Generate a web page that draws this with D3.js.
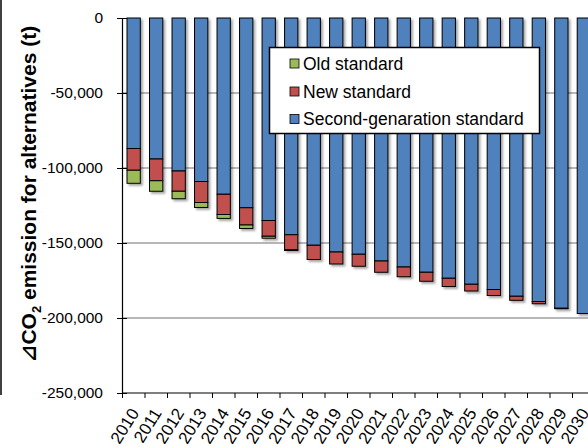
<!DOCTYPE html>
<html>
<head>
    <meta charset="utf-8" />
    <script src="https://d3js.org/d3.v7.min.js"></script>
    <style>
        body { margin: 0; background: #fff; }
        text { font-family: "Liberation Sans", Arial, sans-serif; }
    </style>
</head>
<body>
    <script>
        var years = d3.range(2010, 2031).map(String);
        // values in t (negative = reduction)
        var secondGen = [-87000, -94000, -102000, -109000, -117500, -126500, -135000, -144500, -151500, -156000, -157500,
                         -162000, -166000, -169500, -173500, -177500, -181000, -185500, -189000, -193500, -197000];
        var newStd = [-14500, -14500, -13500, -14000, -13500, -11500, -10500, -10000, -9500, -8000, -8000,
                      -7500, -6500, -6000, -5500, -4500, -4000, -2700, -1500, -300, 0];
        var oldStd = [-8700, -7000, -5000, -3300, -2600, -2300, -1300, -500, 0, 0, 0,
                      0, 0, 0, 0, 0, 0, 0, 0, 0, 0];
        var yTicks = [0, -50000, -100000, -150000, -200000, -250000];
        var seriesNames = ["Old standard", "New standard", "Second-genaration standard"];

        var colors = { second: "#4f81bd", "new": "#c0504d", old: "#9bbb59" };

        var width = 588, height = 447;
        var svg = d3.select("body").append("svg")
            .attr("width", width)
            .attr("height", height);

        var defs = svg.append("defs");
        var shadow = defs.append("filter").attr("id", "shadow")
            .attr("x", "-20%").attr("y", "-20%").attr("width", "150%").attr("height", "150%");
        shadow.append("feDropShadow")
            .attr("dx", 2).attr("dy", 2).attr("stdDeviation", 0.8)
            .attr("flood-color", "#000").attr("flood-opacity", 0.35);

        var table = years.map(function (y, i) {
            return { year: y, second: secondGen[i], "new": newStd[i], old: oldStd[i] };
        });

        var x = d3.scaleBand()
            .domain(years)
            .range([122.5, 122.5 + 22.5 * years.length])
            .paddingInner(0.41)
            .paddingOuter(0.2);

        var y = d3.scaleLinear()
            .domain([-250000, 0])
            .range([393, 18]);

        // outer frame remnant on the far left
        svg.append("line")
            .attr("x1", 1).attr("x2", 1)
            .attr("y1", 0).attr("y2", 395)
            .attr("stroke", "#000").attr("stroke-width", 1.5);

        // gridlines
        svg.append("g")
            .selectAll("line")
            .data(yTicks.filter(function (d) { return d !== 0 && d !== -250000; }))
            .join("line")
            .attr("x1", 122).attr("x2", width)
            .attr("y1", function (d) { return y(d); })
            .attr("y2", function (d) { return y(d); })
            .attr("stroke", "#707070")
            .attr("stroke-width", 1.2);

        var stack = d3.stack()
            .keys(["second", "new", "old"])
            .offset(d3.stackOffsetDiverging);

        var layers = svg.append("g").attr("filter", "url(#shadow)")
            .selectAll("g")
            .data(stack(table))
            .join("g")
            .attr("fill", function (d) { return colors[d.key]; });

        layers.selectAll("rect")
            .data(function (d) { return d.filter(function (p) { return p[1] - p[0] !== 0; }); })
            .join("rect")
            .attr("x", function (d) { return x(d.data.year); })
            .attr("width", x.bandwidth())
            .attr("y", function (d) { return y(d[1]); })
            .attr("height", function (d) { return y(d[0]) - y(d[1]); })
            .attr("stroke", "#000")
            .attr("stroke-width", 1);

        // y axis
        var yAxis = svg.append("g")
            .attr("transform", "translate(122,0)")
            .call(d3.axisLeft(y).tickValues(yTicks)
                .tickFormat(function (d) { return d3.format(",")(d).replace("−", "-"); })
                .tickSizeInner(5).tickSizeOuter(0).tickPadding(14));
        yAxis.select(".domain").attr("stroke", "#000").attr("stroke-width", 1.2);
        yAxis.selectAll(".tick line").attr("x1", -5).attr("x2", 5).attr("stroke", "#000");
        yAxis.selectAll("text").attr("font-size", 15.5).attr("fill", "#000")
            .attr("font-family", "'Liberation Sans', Arial, sans-serif");

        // x axis
        var xAxisG = svg.append("g").attr("transform", "translate(0,393)");
        xAxisG.append("line")
            .attr("x1", 122).attr("x2", width)
            .attr("stroke", "#000").attr("stroke-width", 1.2);
        xAxisG.selectAll(".xtick")
            .data(d3.range(years.length + 1))
            .join("line")
            .attr("x1", function (i) { return 122.5 + 22.5 * i; })
            .attr("x2", function (i) { return 122.5 + 22.5 * i; })
            .attr("y1", 0).attr("y2", 5)
            .attr("stroke", "#000");
        xAxisG.selectAll(".xlabel")
            .data(years)
            .join("text")
            .attr("text-anchor", "end")
            .attr("font-size", 17)
            .attr("transform", function (d) {
                return "translate(" + (x(d) + x.bandwidth() / 2 + 6) + ",20) rotate(-58)";
            })
            .text(function (d) { return d; });

        // y axis title
        var title = svg.append("text")
            .attr("transform", "translate(36,194) rotate(-90)")
            .attr("text-anchor", "middle")
            .attr("font-size", 21)
            .attr("font-weight", "bold");
        title.append("tspan").text("\u22BF").attr("font-family", "'DejaVu Sans', 'Noto Sans CJK JP', sans-serif");
        title.append("tspan").text("CO");
        title.append("tspan").text("2").attr("font-size", 13).attr("dy", 5);
        title.append("tspan").text(" emission for alternatives (t)").attr("dy", -5);

        // legend
        var legend = svg.append("g");
        legend.append("rect")
            .attr("x", 269.5).attr("y", 47.5)
            .attr("width", 270).attr("height", 86)
            .attr("fill", "#fff")
            .attr("stroke", "#000").attr("stroke-width", 1.5);
        var legendColors = [colors.old, colors["new"], colors.second];
        var rows = legend.selectAll(".row")
            .data(seriesNames)
            .join("g")
            .attr("transform", function (d, i) { return "translate(290," + [63.5, 91.5, 119][i] + ")"; });
        rows.append("rect")
            .attr("x", 0).attr("y", -4.5)
            .attr("width", 9).attr("height", 9)
            .attr("fill", function (d, i) { return legendColors[i]; })
            .attr("stroke", "#000").attr("stroke-width", 0.8);
        rows.append("text")
            .attr("x", 13).attr("y", 6)
            .attr("font-size", 17.5)
            .text(function (d) { return d; });
    </script>
</body>
</html>
